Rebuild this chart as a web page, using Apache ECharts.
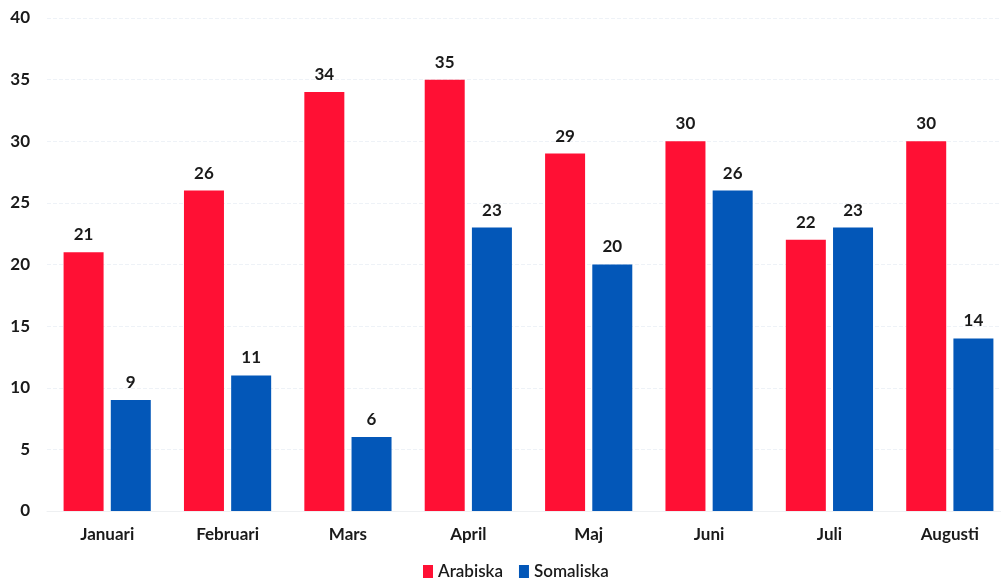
<!DOCTYPE html>
<html><head><meta charset="utf-8">
<script src="https://cdn.jsdelivr.net/npm/echarts@6/dist/echarts.min.js"></script>
<style>html,body{margin:0;padding:0;background:#fff;overflow:hidden}#c{width:1012px;height:580px}</style>
</head><body><div id="c"></div>
<script>
const categories = ['Januari','Februari','Mars','April','Maj','Juni','Juli','Augusti'];
const arabiska = [21, 26, 34, 35, 29, 30, 22, 30];
const somaliska = [9, 11, 6, 23, 20, 26, 23, 14];
const yTicks = {min: 0, max: 40, interval: 5};

const font = 'Lato, "Open Sans", sans-serif';
const chart = echarts.init(document.getElementById('c'), null, {renderer: 'canvas'});
chart.setOption({
  animation: false,
  backgroundColor: '#fff',
  grid: {left: 47, top: 18, bottom: 69, right: 2},
  legend: {
    top: 558, left: 418, itemWidth: 10, itemHeight: 13, itemGap: 16,
    icon: 'rect',
    textStyle: {fontFamily: font, fontSize: 17, color: '#1a1a1a', fontWeight: 600},
    data: ['Arabiska', 'Somaliska']
  },
  xAxis: {
    type: 'category', data: categories,
    axisLine: {show: true, lineStyle: {color: '#eef0f2'}},
    axisTick: {show: false},
    axisLabel: {margin: 15, fontFamily: font, fontSize: 17, color: '#1a1a1a', fontWeight: 'bold'}
  },
  yAxis: {
    type: 'value', min: yTicks.min, max: yTicks.max, interval: yTicks.interval,
    axisLine: {show: false}, axisTick: {show: false},
    splitLine: {lineStyle: {color: '#eef2f7', type: 'dashed'}},
    axisLabel: {margin: 17, fontFamily: font, fontSize: 17, color: '#1a1a1a', fontWeight: 'bold'}
  },
  series: [
    {name: 'Arabiska', type: 'bar', data: arabiska, barWidth: 40, barGap: '18%',
     itemStyle: {color: '#FF1034'},
     label: {show: true, position: 'top', distance: 9, fontFamily: font, fontSize: 17, fontWeight: 'bold', color: '#1a1a1a'}},
    {name: 'Somaliska', type: 'bar', data: somaliska, barWidth: 40,
     itemStyle: {color: '#0357B8'},
     label: {show: true, position: 'top', distance: 9, fontFamily: font, fontSize: 17, fontWeight: 'bold', color: '#1a1a1a'}}
  ]
});
</script></body></html>
